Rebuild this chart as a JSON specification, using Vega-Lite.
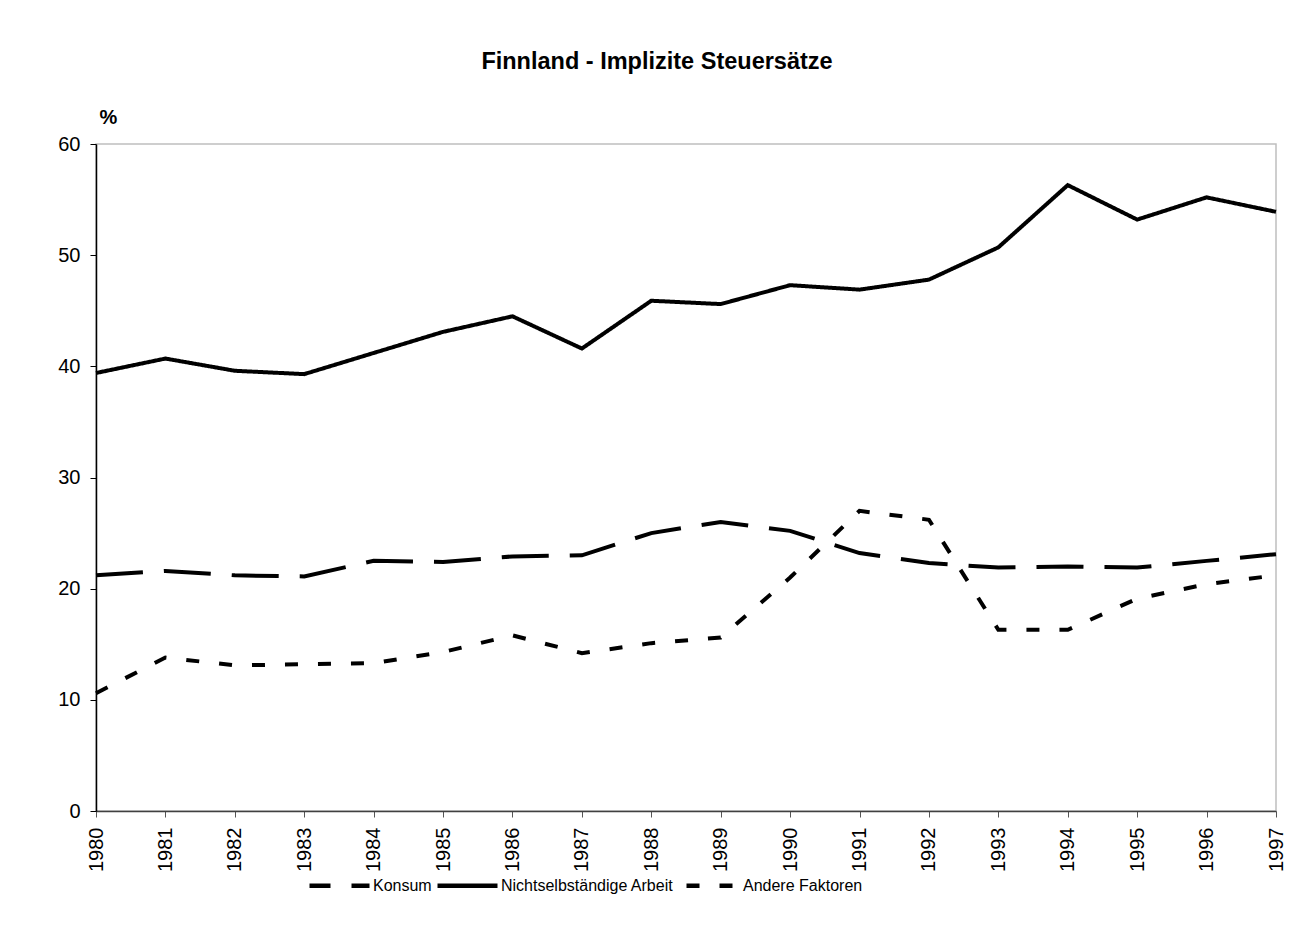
{
  "$schema": "https://vega.github.io/schema/vega-lite/v6.json",
  "autosize": {"type": "none"},
  "padding": {"left": 96, "top": 144, "right": 39, "bottom": 123},
  "width": 1180,
  "height": 667,
  "background": "white",
  "title": {
    "text": "Finnland - Implizite Steuersätze",
    "font": "Liberation Sans",
    "fontSize": 23.5,
    "fontWeight": "bold",
    "color": "black",
    "anchor": "middle",
    "frame": "group",
    "dx": -29,
    "offset": 34
  },
  "config": {
    "view": {"stroke": "#bfbfbf", "strokeWidth": 1.5},
    "font": "Liberation Sans"
  },
  "data": {
    "values": [
      {"year": "1980", "series": "Konsum", "value": 21.2},
      {"year": "1981", "series": "Konsum", "value": 21.6},
      {"year": "1982", "series": "Konsum", "value": 21.2},
      {"year": "1983", "series": "Konsum", "value": 21.1},
      {"year": "1984", "series": "Konsum", "value": 22.5},
      {"year": "1985", "series": "Konsum", "value": 22.4},
      {"year": "1986", "series": "Konsum", "value": 22.9},
      {"year": "1987", "series": "Konsum", "value": 23.0},
      {"year": "1988", "series": "Konsum", "value": 25.0},
      {"year": "1989", "series": "Konsum", "value": 26.0},
      {"year": "1990", "series": "Konsum", "value": 25.2},
      {"year": "1991", "series": "Konsum", "value": 23.2},
      {"year": "1992", "series": "Konsum", "value": 22.3},
      {"year": "1993", "series": "Konsum", "value": 21.9},
      {"year": "1994", "series": "Konsum", "value": 22.0},
      {"year": "1995", "series": "Konsum", "value": 21.9},
      {"year": "1996", "series": "Konsum", "value": 22.5},
      {"year": "1997", "series": "Konsum", "value": 23.1},
      {"year": "1980", "series": "Nichtselbständige Arbeit", "value": 39.4},
      {"year": "1981", "series": "Nichtselbständige Arbeit", "value": 40.7},
      {"year": "1982", "series": "Nichtselbständige Arbeit", "value": 39.6},
      {"year": "1983", "series": "Nichtselbständige Arbeit", "value": 39.3},
      {"year": "1984", "series": "Nichtselbständige Arbeit", "value": 41.2},
      {"year": "1985", "series": "Nichtselbständige Arbeit", "value": 43.1},
      {"year": "1986", "series": "Nichtselbständige Arbeit", "value": 44.5},
      {"year": "1987", "series": "Nichtselbständige Arbeit", "value": 41.6},
      {"year": "1988", "series": "Nichtselbständige Arbeit", "value": 45.9},
      {"year": "1989", "series": "Nichtselbständige Arbeit", "value": 45.6},
      {"year": "1990", "series": "Nichtselbständige Arbeit", "value": 47.3},
      {"year": "1991", "series": "Nichtselbständige Arbeit", "value": 46.9},
      {"year": "1992", "series": "Nichtselbständige Arbeit", "value": 47.8},
      {"year": "1993", "series": "Nichtselbständige Arbeit", "value": 50.7},
      {"year": "1994", "series": "Nichtselbständige Arbeit", "value": 56.3},
      {"year": "1995", "series": "Nichtselbständige Arbeit", "value": 53.2},
      {"year": "1996", "series": "Nichtselbständige Arbeit", "value": 55.2},
      {"year": "1997", "series": "Nichtselbständige Arbeit", "value": 53.9},
      {"year": "1980", "series": "Andere Faktoren", "value": 10.6},
      {"year": "1981", "series": "Andere Faktoren", "value": 13.8},
      {"year": "1982", "series": "Andere Faktoren", "value": 13.1},
      {"year": "1983", "series": "Andere Faktoren", "value": 13.2},
      {"year": "1984", "series": "Andere Faktoren", "value": 13.3},
      {"year": "1985", "series": "Andere Faktoren", "value": 14.3},
      {"year": "1986", "series": "Andere Faktoren", "value": 15.8},
      {"year": "1987", "series": "Andere Faktoren", "value": 14.2},
      {"year": "1988", "series": "Andere Faktoren", "value": 15.1},
      {"year": "1989", "series": "Andere Faktoren", "value": 15.6},
      {"year": "1990", "series": "Andere Faktoren", "value": 21.0},
      {"year": "1991", "series": "Andere Faktoren", "value": 27.0},
      {"year": "1992", "series": "Andere Faktoren", "value": 26.2},
      {"year": "1993", "series": "Andere Faktoren", "value": 16.3},
      {"year": "1994", "series": "Andere Faktoren", "value": 16.3},
      {"year": "1995", "series": "Andere Faktoren", "value": 19.1},
      {"year": "1996", "series": "Andere Faktoren", "value": 20.4},
      {"year": "1997", "series": "Andere Faktoren", "value": 21.2}
    ]
  },
  "mark": {"type": "line", "strokeWidth": 4, "color": "black", "strokeCap": "butt"},
  "encoding": {
    "x": {
      "field": "year",
      "type": "ordinal",
      "scale": {"type": "point", "padding": 0},
      "axis": {
        "title": null,
        "labelAngle": 270,
        "labelFont": "Liberation Sans",
        "labelFontSize": 20,
        "labelColor": "black",
        "labelPadding": 10,
        "labelOverlap": false,
        "tickSize": 6,
        "tickColor": "#555555",
        "domainColor": "#404040",
        "domainWidth": 1.5,
        "grid": false
      }
    },
    "y": {
      "field": "value",
      "type": "quantitative",
      "scale": {"domain": [0, 60], "nice": false},
      "axis": {
        "title": "%",
        "titleAngle": 0,
        "titleX": 12,
        "titleY": -27,
        "titleAlign": "center",
        "titleBaseline": "middle",
        "titleFont": "Liberation Sans",
        "titleFontSize": 20,
        "titleFontWeight": "bold",
        "titleColor": "black",
        "values": [0, 10, 20, 30, 40, 50, 60],
        "grid": false,
        "domainColor": "black",
        "domainWidth": 1.5,
        "tickColor": "black",
        "tickSize": 6,
        "labelFont": "Liberation Sans",
        "labelFontSize": 20,
        "labelColor": "black",
        "labelPadding": 10
      }
    },
    "strokeDash": {
      "field": "series",
      "type": "nominal",
      "scale": {
        "domain": ["Konsum", "Nichtselbständige Arbeit", "Andere Faktoren"],
        "range": [[47, 21], [1, 0], [13, 20]]
      },
      "legend": {
        "title": null,
        "orient": "none",
        "legendX": 211,
        "legendY": 709,
        "direction": "horizontal",
        "symbolType": "stroke",
        "symbolSize": 3600,
        "symbolStrokeWidth": 4.5,
        "symbolStrokeColor": "black",
        "symbolDashOffset": 26,
        "labelFont": "Liberation Sans",
        "labelFontSize": 16,
        "labelColor": "black",
        "labelLimit": 400,
        "labelOffset": 1,
        "columnPadding": -4,
        "padding": 0
      }
    }
  }
}
